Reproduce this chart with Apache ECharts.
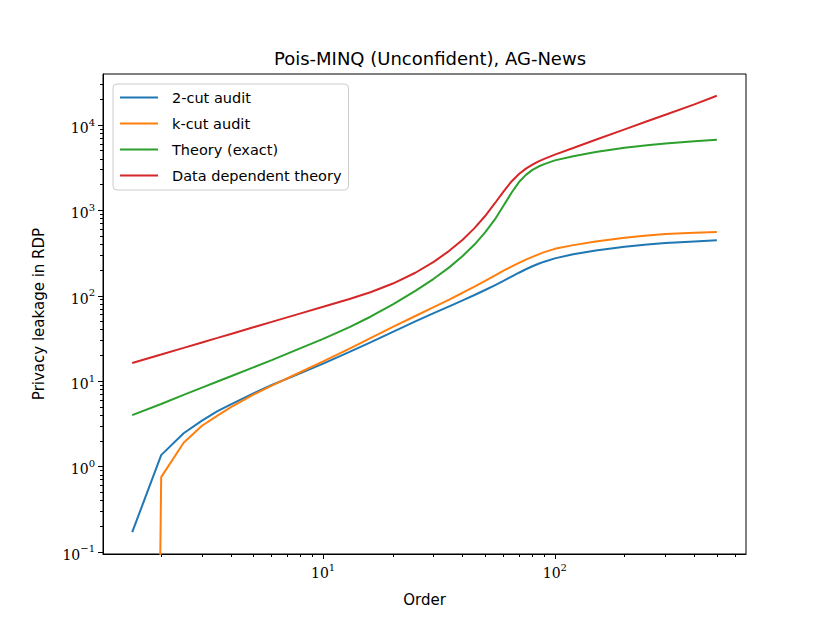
<!DOCTYPE html>
<html>
<head>
<meta charset="utf-8">
<script src="https://cdn.jsdelivr.net/npm/echarts@6/dist/echarts.min.js"></script>
<style>
  html, body { margin: 0; padding: 0; background: #fff; }
  #chart { width: 830px; height: 623px; }
</style>
</head>
<body>
<div id="chart"></div>
<script>
// Rényi order on the x axis
const orders = [1.5, 2, 2.5, 3, 3.5, 4, 5, 6, 8, 10, 13, 16, 20, 25, 30, 35, 40, 45, 50, 55, 60, 65, 70, 75, 80, 85, 90, 100, 120, 150, 200, 250, 300, 400, 500];

// privacy leakage per series
const twoCut = [0.17, 1.36, 2.45, 3.45, 4.45, 5.35, 7.2, 9.0, 12.4, 16.0, 22.0, 28.5, 37.8, 50.0, 62.5, 75.2, 88.3, 102.1, 116.8, 132.6, 149.5, 167.5, 186.1, 204.4, 221.5, 236.8, 250.7, 274.2, 307, 339.5, 374.3, 398.5, 414, 433.5, 446.3];
const kCut = [0, 0.75, 1.9, 3.0, 3.95, 4.95, 6.93, 8.85, 12.8, 17.0, 24.0, 31.9, 43.2, 57.9, 73.5, 90.2, 108.5, 128.3, 149.6, 172.4, 196.5, 219.8, 242.9, 264.8, 285.2, 305.8, 324.1, 354.5, 391.9, 433.3, 477.8, 507.5, 527.3, 547.4, 558.5];
const theoryExact = [4.0, 5.4, 6.9, 8.4, 9.9, 11.4, 14.5, 17.6, 24.4, 31.3, 42.9, 56.8, 79.4, 114, 158, 215, 293, 398, 552, 778, 1131, 1608, 2147, 2604, 2982, 3265, 3487, 3853, 4315, 4824, 5413, 5800, 6071, 6470, 6720];
const dataDependent = [16.3, 20.5, 24.5, 28.4, 32.1, 35.7, 42.7, 49.4, 62.2, 74.3, 91.6, 110, 139, 186, 249, 336, 454, 620, 859, 1205, 1662, 2182, 2666, 3082, 3439, 3755, 4010, 4500, 5381, 6726, 8900, 11070, 13170, 17430, 22000];

const seriesNames = ["2-cut audit", "k-cut audit", "Theory (exact)", "Data dependent theory"];
const seriesColors = ["#1f77b4", "#ff7f0e", "#2ca02c", "#d62728"];

// tick positions
const xMajorTicks = [10, 100];
const yMajorTicks = [0.1, 1, 10, 100, 1000, 10000];
const xMinorTicks = [];
[1, 10, 100].forEach(d => { for (let m = 2; m <= 9; m++) xMinorTicks.push(m * d); });
const yMinorTicks = [];
[0.1, 1, 10, 100, 1000, 10000].forEach(d => { for (let m = 2; m <= 9; m++) yMinorTicks.push(+(m * d).toPrecision(3)); });

const xMin = 1.122, xMax = 668;
const yMin = 0.0944, yMax = 39600;

function powLabel(v) {
    const e = Math.round(Math.log10(v));
    return "{b|10}{s|" + (e < 0 ? "\u2212" + (-e) : e) + "}";
}
const labelRich = {
    b: { fontFamily: "DejaVu Serif", fontSize: 14, color: "#000", lineHeight: 20, verticalAlign: "bottom" },
    s: { fontFamily: "DejaVu Serif", fontSize: 10, color: "#000", lineHeight: 20, verticalAlign: "top", padding: [2, 0, 0, 0] }
};

const gridBox = { left: 103, top: 74, width: 643, height: 480 };

// non-positive values are clipped to the bottom of the log axis, like matplotlib
function toPairs(ys) {
    return orders.map((x, i) => [x, ys[i] > 0 ? ys[i] : 1e-30]);
}

const chart = echarts.init(document.getElementById("chart"), null, { renderer: "svg" });
chart.setOption({
    animation: false,
    backgroundColor: "#fff",
    title: {
        text: "Pois-MINQ (Unconfident), AG-News",
        left: 425, top: 44, textAlign: "center",
        textStyle: { fontFamily: "DejaVu Sans", fontSize: 18, fontWeight: "normal", color: "#000" }
    },
    grid: [
        Object.assign({ show: true, borderColor: "#000", borderWidth: 1, containLabel: false }, gridBox),
        Object.assign({ show: false, containLabel: false }, gridBox)
    ],
    legend: {
        orient: "vertical", left: 113, top: 84,
        data: seriesNames,
        itemWidth: 38, itemHeight: 14, itemGap: 11,
        padding: [6, 7, 7, 6],
        borderColor: "#ccc", borderWidth: 1, borderRadius: 4,
        backgroundColor: "rgba(255,255,255,0.8)",
        itemStyle: { opacity: 0 },
        lineStyle: { width: 2 },
        textStyle: { fontFamily: "DejaVu Sans", fontSize: 14.5, color: "#000", padding: [0, 0, 0, 9] }
    },
    xAxis: [{
        type: "log", gridIndex: 0, min: xMin, max: xMax,
        name: "Order", nameLocation: "middle", nameGap: 38,
        nameTextStyle: { fontFamily: "DejaVu Sans", fontSize: 15, color: "#000" },
        axisLine: { lineStyle: { color: "#000", width: 1 } },
        axisTick: { customValues: xMajorTicks, length: 5, lineStyle: { color: "#000" } },
        axisLabel: { customValues: xMajorTicks, formatter: powLabel, rich: labelRich, margin: 6 },
        splitLine: { show: false }
    }, {
        type: "log", gridIndex: 1, min: xMin, max: xMax,
        axisLine: { show: false },
        axisTick: { customValues: xMinorTicks, length: 3, lineStyle: { color: "#000" } },
        axisLabel: { show: false },
        splitLine: { show: false }
    }],
    yAxis: [{
        type: "log", gridIndex: 0, min: yMin, max: yMax,
        name: "Privacy leakage in RDP", nameLocation: "middle", nameGap: 57,
        nameTextStyle: { fontFamily: "DejaVu Sans", fontSize: 15, color: "#000" },
        axisLine: { lineStyle: { color: "#000", width: 1 } },
        axisTick: { customValues: yMajorTicks, length: 5, lineStyle: { color: "#000" } },
        axisLabel: { customValues: yMajorTicks, formatter: powLabel, rich: labelRich, margin: 8 },
        splitLine: { show: false }
    }, {
        type: "log", gridIndex: 1, min: yMin, max: yMax,
        axisLine: { show: false },
        axisTick: { customValues: yMinorTicks, length: 3, lineStyle: { color: "#000" } },
        axisLabel: { show: false },
        splitLine: { show: false }
    }],
    series: [twoCut, kCut, theoryExact, dataDependent].map((ys, i) => ({
        name: seriesNames[i],
        type: "line",
        xAxisIndex: 0, yAxisIndex: 0,
        data: toPairs(ys),
        symbol: "none",
        clip: true,
        color: seriesColors[i],
        lineStyle: { width: 2, color: seriesColors[i] }
    }))
});
</script>
</body>
</html>
